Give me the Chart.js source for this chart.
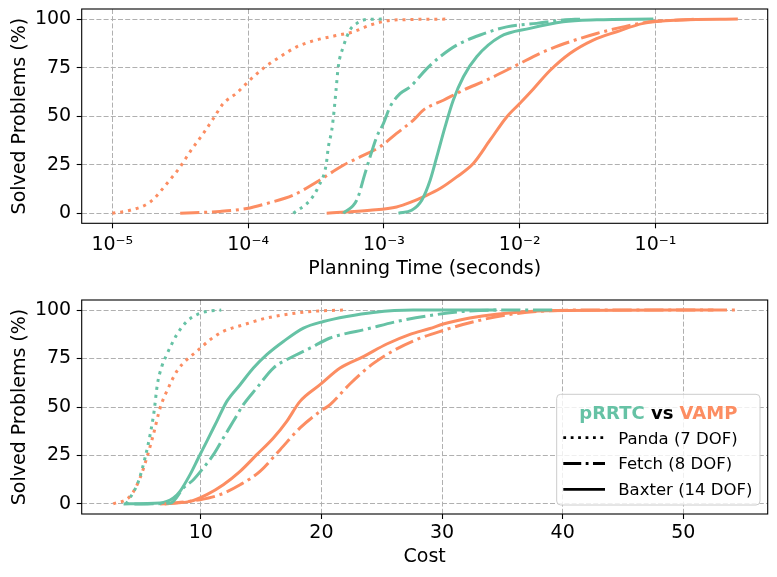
<!DOCTYPE html>
<html lang="en">
<head>
<meta charset="UTF-8">
<title>pRRTC vs VAMP</title>
<style>
  body { margin: 0; background: #fff; }
  .wrap { position: relative; width: 777px; height: 577px; }
  canvas { position: absolute; left: 0; }
  #timeChart { top: 0; }
  #costChart { top: 290px; }
</style>
</head>
<body>
<div class="wrap">
  <canvas id="timeChart" width="777" height="290"></canvas>
  <canvas id="costChart" width="777" height="287"></canvas>
</div>
<script src="https://cdn.jsdelivr.net/npm/chart.js"></script>
<script>
// ---- data ----
const yTicks = [0, 25, 50, 75, 100];
const timeTicks = [1e-5, 1e-4, 1e-3, 1e-2, 1e-1];
const costTicks = [10, 20, 30, 40, 50];
const planners = ['pRRTC', 'VAMP'];
const robots = ['Panda (7 DOF)', 'Fetch (8 DOF)', 'Baxter (14 DOF)'];

// planning time in seconds -> % solved
const timePrrtcPanda = [[2.15e-4,0],[2.86e-4,6.7],[3.29e-4,13.6],[3.75e-4,24.7],[3.90e-4,34.2],[4.13e-4,42.8],[4.30e-4,53.1],[4.44e-4,63.4],[4.61e-4,75.4],[5.02e-4,85.7],[5.62e-4,94.3],[6.31e-4,97.8],[7.46e-4,99.8],[1.02e-3,100]];
const timePrrtcFetch = [[5.02e-4,0],[6.31e-4,6.7],[7.26e-4,20.5],[7.91e-4,29.0],[8.85e-4,39.3],[9.91e-4,46.2],[1.11e-3,54.8],[1.32e-3,61.7],[1.56e-3,65.1],[2.07e-3,74.5],[2.59e-3,80.6],[3.44e-3,86.6],[5.11e-3,91.8],[8.02e-3,96.0],[1.33e-2,97.8],[2.09e-2,99.5],[2.82e-2,100]];
const timePrrtcBaxter = [[1.28e-3,0],[1.60e-3,1.5],[1.90e-3,6.7],[2.19e-3,17.0],[2.45e-3,29.0],[2.82e-3,44.5],[3.24e-3,58.2],[3.85e-3,70.3],[4.82e-3,80.6],[7.16e-3,90.9],[1.19e-2,95.2],[2.09e-2,98.6],[3.69e-2,99.6],[9.64e-2,100]];
const timeVampPanda = [[1.0e-5,0],[1.35e-5,1.5],[1.90e-5,5.8],[2.58e-5,16.1],[3.16e-5,23.9],[3.73e-5,31.6],[4.68e-5,41.1],[5.55e-5,48.8],[6.56e-5,56.5],[8.24e-5,61.9],[1.03e-4,68.6],[1.29e-4,74.6],[1.72e-4,80.6],[2.28e-4,85.7],[3.02e-4,88.8],[4.24e-4,91.2],[5.96e-4,93.5],[7.91e-4,96.9],[1.05e-3,99.1],[1.64e-3,99.8],[2.90e-3,100]];
const timeVampFetch = [[3.16e-5,0],[6.21e-5,0.9],[9.77e-5,2.4],[1.37e-4,5.0],[2.15e-4,9.3],[3.20e-4,16.1],[5.02e-4,24.7],[6.67e-4,29.0],[9.35e-4,34.2],[1.24e-3,41.1],[1.65e-3,48.0],[1.95e-3,53.1],[2.74e-3,58.2],[3.85e-3,63.4],[5.71e-3,68.6],[9.51e-3,76.3],[1.49e-2,83.1],[2.34e-2,88.3],[3.69e-2,92.6],[5.79e-2,96.0],[9.12e-2,98.6],[0.151,99.5],[0.20,100]];
const timeVampBaxter = [[3.79e-4,0],[7.91e-4,1.5],[1.24e-3,3.2],[1.65e-3,6.2],[1.95e-3,8.4],[2.59e-3,12.7],[3.44e-3,18.7],[4.55e-3,25.6],[6.04e-3,37.6],[8.02e-3,49.6],[1.00e-2,56.5],[1.26e-2,64.0],[1.67e-2,73.5],[2.34e-2,82.3],[3.48e-2,89.2],[5.18e-2,93.5],[8.13e-2,97.8],[0.151,99.5],[0.404,100]];

// path cost -> % solved
const costPrrtcPanda = [[3.8,0],[4.14,3.1],[4.83,11.6],[5.38,23.7],[5.80,35.7],[6.13,47.7],[6.40,61.5],[6.77,70.9],[7.18,77.0],[8.01,87.3],[8.84,94.1],[9.67,97.6],[10.5,99.3],[11.7,100]];
const costPrrtcFetch = [[4.5,0],[7.5,0.5],[8.56,8.2],[9.39,12.5],[10.22,18.6],[11.05,25.4],[11.87,34.0],[12.70,42.6],[13.53,51.2],[14.64,59.8],[16.02,70.1],[17.40,75.3],[19.06,80.4],[20.72,85.6],[22.1,88.0],[23.48,89.8],[26.25,94.1],[29.0,97.2],[31.8,99.3],[34.5,100],[39.5,100]];
const costPrrtcBaxter = [[3.6,0],[6.63,0.5],[7.73,3.1],[8.28,6.5],[9.11,15.1],[9.80,23.7],[10.50,32.3],[11.33,42.6],[12.16,52.9],[13.26,61.5],[14.36,70.1],[15.47,77.0],[16.85,83.8],[18.51,90.7],[20.17,94.1],[22.1,96.7],[24.31,98.8],[27.6,100],[34.5,100]];
const costVampPanda = [[2.74,0],[4.14,3.9],[4.97,13.4],[5.52,23.7],[6.07,35.7],[6.63,49.5],[7.31,59.8],[8.01,68.4],[8.84,74.4],[9.67,78.7],[10.77,84.7],[11.87,89.0],[13.53,92.4],[15.47,95.9],[17.96,98.5],[19.9,99.6],[21.8,100]];
const costVampFetch = [[7.0,0],[9.94,2.2],[11.6,4.8],[13.26,9.9],[14.91,16.8],[16.58,28.0],[18.23,39.2],[19.89,47.7],[20.72,51.2],[22.38,62.0],[24.31,72.5],[26.25,80.0],[28.18,85.5],[30.1,89.5],[32.3,93.5],[35.1,97.2],[37.9,99.3],[41.5,100],[54.3,100]];
const costVampBaxter = [[6.63,0],[9.11,1.3],[10.50,4.8],[11.87,9.9],[13.26,16.8],[14.64,25.4],[16.02,34.0],[17.13,42.6],[18.23,52.9],[19.89,61.5],[21.55,70.1],[23.48,76.0],[25.42,82.5],[27.35,87.5],[29.0,90.5],[30.1,92.8],[32.3,95.9],[34.5,97.9],[37.3,99.3],[40.1,99.8],[52.5,100]];

// ---- styles ----
const GREEN = '#66c2a5';
const ORANGE = '#fc8d62';
const FONT = 'DejaVu Sans';
const LW = 3;
const dashes = {
  panda: [LW * 1, LW * 1.65],
  fetch: [LW * 6.4, LW * 1.6, LW * 1, LW * 1.6],
  baxter: []
};

Chart.defaults.font.family = FONT;
Chart.defaults.color = '#000';

function series(label, pts, color, dash) {
  return {
    label: label,
    data: pts.map(p => ({ x: p[0], y: p[1] })),
    borderColor: color,
    borderWidth: LW,
    borderDash: dash,
    borderCapStyle: 'butt',
    cubicInterpolationMode: 'monotone',
    pointRadius: 0,
    fill: false
  };
}

const SUP = { '-': '\u207b', '0': '\u2070', '1': '\u00b9', '2': '\u00b2', '3': '\u00b3', '4': '\u2074', '5': '\u2075', '6': '\u2076', '7': '\u2077', '8': '\u2078', '9': '\u2079' };
function powerLabel(v) {
  const e = String(Math.round(Math.log10(v)));
  return '10' + e.split('').map(c => SUP[c]).join('');
}

// black box round the plot area, like matplotlib spines
const frame = {
  id: 'frame',
  afterDraw(chart) {
    const { ctx, chartArea: a } = chart;
    ctx.save();
    ctx.strokeStyle = '#000';
    ctx.lineWidth = 1.1;
    ctx.strokeRect(a.left, a.top, a.right - a.left, a.bottom - a.top);
    ctx.restore();
  }
};

// legend with the two-coloured title
const styleLegend = {
  id: 'styleLegend',
  afterDraw(chart) {
    const { ctx, chartArea: a } = chart;
    const w = 203.3, h = 110.7;
    const x0 = a.right - 7.7 - w;
    const y0 = a.bottom - 9 - h;
    ctx.save();
    ctx.beginPath();
    ctx.roundRect(x0, y0, w, h, 4);
    ctx.fillStyle = 'rgba(255,255,255,0.8)';
    ctx.fill();
    ctx.strokeStyle = '#cccccc';
    ctx.lineWidth = 1;
    ctx.stroke();

    // title
    ctx.font = 'bold 18px "' + FONT + '"';
    ctx.textBaseline = 'alphabetic';
    ctx.textAlign = 'left';
    const parts = [[planners[0], GREEN], [' vs ', '#000'], [planners[1], ORANGE]];
    const total = parts.reduce((s, p) => s + ctx.measureText(p[0]).width, 0);
    let tx = x0 + w / 2 - total / 2;
    parts.forEach(p => {
      ctx.fillStyle = p[1];
      ctx.fillText(p[0], tx, y0 + 24.7);
      tx += ctx.measureText(p[0]).width;
    });

    // entries
    const lw = 2.8;
    const legendDash = [[lw, lw * 1.65], [lw * 6.4, lw * 1.6, lw, lw * 1.6], []];
    ctx.font = '16.5px "' + FONT + '"';
    robots.forEach((name, i) => {
      const ly = y0 + 43.4 + i * 25.8;
      ctx.beginPath();
      ctx.setLineDash(legendDash[i]);
      ctx.lineCap = 'butt';
      ctx.lineWidth = lw;
      ctx.strokeStyle = '#000';
      ctx.moveTo(x0 + 6.6, ly);
      ctx.lineTo(x0 + 48.3, ly);
      ctx.stroke();
      ctx.setLineDash([]);
      ctx.fillStyle = '#000';
      ctx.fillText(name, x0 + 61.6, ly + 5.8);
    });
    ctx.restore();
  }
};

function yAxis() {
  return {
    type: 'linear',
    min: -5.2,
    max: 105.2,
    afterBuildTicks: s => { s.ticks = yTicks.map(v => ({ value: v })); },
    afterFit: s => { s.width = 81.7; s.paddingTop = 0; s.paddingBottom = 0; },
    ticks: { font: { size: 19 }, color: '#000', padding: 5.5 },
    grid: { color: '#b0b0b0', lineWidth: 1, tickColor: '#000', tickLength: 5, tickWidth: 1.1 },
    border: { display: false, dash: [5, 2.2] },
    title: { display: true, text: 'Solved Problems (%)', font: { size: 19 }, color: '#000', padding: { top: 8.3, bottom: 0 } }
  };
}

function xGrid() {
  return { color: '#b0b0b0', lineWidth: 1, tickColor: '#000', tickLength: 5, tickWidth: 1.1 };
}

function build(id, sets, xScale, plugins, padTop) {
  return new Chart(document.getElementById(id), {
    type: 'line',
    data: { datasets: sets },
    options: {
      responsive: false,
      animation: false,
      devicePixelRatio: 1,
      layout: { padding: { top: padTop, right: 9.3, left: 0, bottom: 0 } },
      plugins: { legend: { display: false }, tooltip: { enabled: false } },
      scales: { x: xScale, y: yAxis() }
    },
    plugins: plugins
  });
}

const timeSets = [
  series('pRRTC ' + robots[0], timePrrtcPanda, GREEN, dashes.panda),
  series('VAMP ' + robots[0], timeVampPanda, ORANGE, dashes.panda),
  series('pRRTC ' + robots[1], timePrrtcFetch, GREEN, dashes.fetch),
  series('VAMP ' + robots[1], timeVampFetch, ORANGE, dashes.fetch),
  series('pRRTC ' + robots[2], timePrrtcBaxter, GREEN, dashes.baxter),
  series('VAMP ' + robots[2], timeVampBaxter, ORANGE, dashes.baxter)
];

const costSets = [
  series('pRRTC ' + robots[0], costPrrtcPanda, GREEN, dashes.panda),
  series('VAMP ' + robots[0], costVampPanda, ORANGE, dashes.panda),
  series('pRRTC ' + robots[1], costPrrtcFetch, GREEN, dashes.fetch),
  series('VAMP ' + robots[1], costVampFetch, ORANGE, dashes.fetch),
  series('pRRTC ' + robots[2], costPrrtcBaxter, GREEN, dashes.baxter),
  series('VAMP ' + robots[2], costVampBaxter, ORANGE, dashes.baxter)
];

build('timeChart', timeSets, {
  type: 'logarithmic',
  min: 5.95e-6,
  max: 0.67,
  afterBuildTicks: s => { s.ticks = timeTicks.map(v => ({ value: v, major: true })); },
  afterFit: s => { s.height = 290 - 223.3; s.paddingLeft = 0; s.paddingRight = 0; },
  ticks: { font: { size: 19 }, color: '#000', padding: 5.4, maxRotation: 0, autoSkip: false, callback: v => powerLabel(v) },
  grid: xGrid(),
  border: { display: false, dash: [5, 2.2] },
  title: { display: true, text: 'Planning Time (seconds)', font: { size: 19 }, color: '#000', padding: { top: 0, bottom: 9.6 } }
}, [frame], 9);

build('costChart', costSets, {
  type: 'linear',
  min: 0.13,
  max: 57.0,
  afterBuildTicks: s => { s.ticks = costTicks.map(v => ({ value: v })); },
  afterFit: s => { s.height = 287 - 224; s.paddingLeft = 0; s.paddingRight = 0; },
  ticks: { font: { size: 19 }, color: '#000', padding: 2.6, maxRotation: 0, autoSkip: false },
  grid: xGrid(),
  border: { display: false, dash: [5, 2.2] },
  title: { display: true, text: 'Cost', font: { size: 19 }, color: '#000', padding: { top: 0, bottom: 8.3 } }
}, [frame, styleLegend], 10);
</script>
</body>
</html>
